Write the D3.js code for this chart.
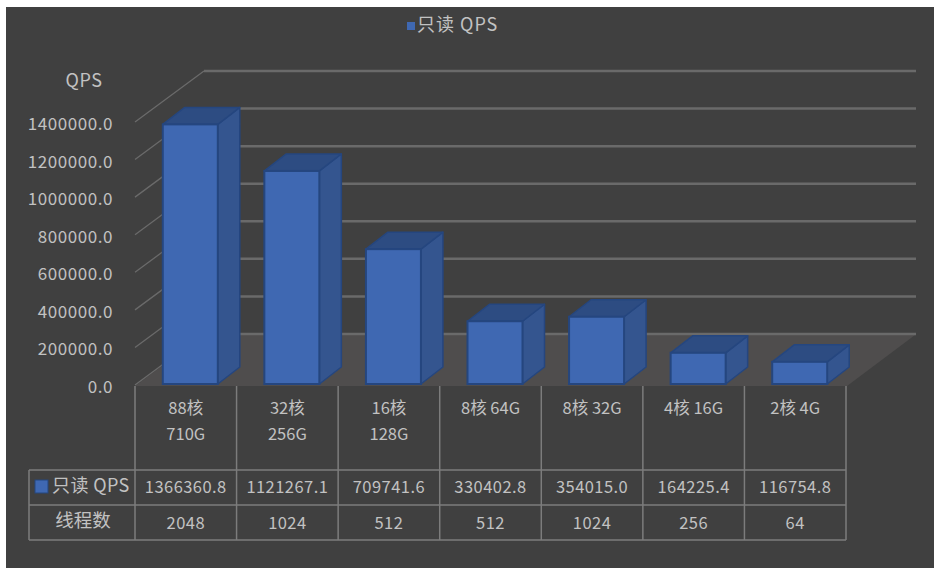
<!DOCTYPE html>
<html><head><meta charset="utf-8">
<script src="https://cdn.jsdelivr.net/npm/d3@7"></script>
<style>
html,body{margin:0;padding:0;background:#fff}
svg{display:block}
text{font-family:"Noto Sans CJK SC","Noto Sans",sans-serif;fill:#c2c2c2}
</style></head><body>
<script>
const categories = [["88核","710G"],["32核","256G"],["16核","128G"],["8核 64G"],["8核 32G"],["4核 16G"],["2核 4G"]];
const qps = [1366360.8,1121267.1,709741.6,330402.8,354015.0,164225.4,116754.8];
const threads = [2048,1024,512,512,1024,256,64];
const tickValues = [0,200000,400000,600000,800000,1000000,1200000,1400000];
const seriesName = "只读 QPS";
const threadName = "线程数";
const yTitle = "QPS";

const W=934,H=568;
const svg=d3.select("body").append("svg").attr("width",W).attr("height",H);
svg.append("rect").attr("x",6).attr("y",7).attr("width",W-6).attr("height",H-7).attr("fill","#404040");

const idx=d3.range(categories.length);
const x=d3.scaleBand().domain(idx).range([135,846]);
const yAxisScale=d3.scaleLinear().domain([0,1400000]).range([385,122]);
const yBar=d3.scaleLinear().domain([0,1400000]).range([384,118]);
const wallDx=69, wallDy=-51;
const barW=55, barDx=22, barDy=-17, barShift=4.5;

// floor
const floorPts=[[135,386],[847,386],[847+wallDx-1,386+wallDy],[135+wallDx,386+wallDy]];
svg.append("path").attr("d",d3.line()(floorPts)+"Z").attr("fill","#4f4d4d");

// gridlines: back wall and left side wall
const grid=svg.append("g").attr("fill","none").attr("stroke","#6a6a6a");
grid.selectAll("path.back").data(tickValues).join("path").attr("class","back")
 .attr("d",v=>{const y0=yAxisScale(v);return d3.line()([[135+wallDx,y0+wallDy],[916,y0+wallDy]]);})
 .attr("stroke-width",2.5);
grid.selectAll("path.side").data(tickValues).join("path").attr("class","side")
 .attr("d",v=>{const y0=yAxisScale(v);return d3.line()([[135,y0],[135+wallDx,y0+wallDy]]);})
 .attr("stroke-width",1.3);

// axis
const axis=d3.axisLeft(yAxisScale).tickValues(tickValues).tickSize(0).tickPadding(0).tickFormat(d=>d3.format(".1f")(d));
const ag=svg.append("g").attr("transform","translate(113,2)").call(axis);
ag.select(".domain").remove();
ag.selectAll("text").attr("font-size",17).attr("letter-spacing",0.55).attr("fill","#c2c2c2")
  .attr("font-family",'"Noto Sans","Noto Sans CJK SC",sans-serif');
svg.append("text").attr("x",84).attr("y",87).attr("text-anchor","middle").attr("font-size",18).attr("letter-spacing",0.5).text(yTitle);

// bars
const bars=svg.append("g").selectAll("g").data(idx).join("g");
const faceStroke="#25467f";
const left=i=>x(i)+x.bandwidth()/2+barShift-barW/2;
bars.append("path").attr("d",i=>{const r=left(i)+barW,t=yBar(qps[i]),b=yBar(0);
   return d3.line()([[r,t],[r+barDx,t+barDy],[r+barDx,b+barDy],[r,b]])+"Z";})
  .attr("fill","#34558f").attr("stroke",faceStroke).attr("stroke-width",1.5).attr("stroke-linejoin","round");
bars.append("path").attr("d",i=>{const l=left(i),r=l+barW,t=yBar(qps[i]);
   return d3.line()([[l,t],[l+barDx,t+barDy],[r+barDx,t+barDy],[r,t]])+"Z";})
  .attr("fill","#2d4c82").attr("stroke",faceStroke).attr("stroke-width",1.5).attr("stroke-linejoin","round");
bars.append("rect").attr("x",left).attr("y",i=>yBar(qps[i]))
  .attr("width",barW).attr("height",i=>yBar(0)-yBar(qps[i]))
  .attr("fill","#3f68b2").attr("stroke",faceStroke).attr("stroke-width",2);

// data table
const tTop=386,r1=470,r2=505,r3=540,tLeft=29,tRight=846;
const lines=svg.append("g").attr("stroke","#7c7c7c").attr("stroke-width",1.5);
idx.concat([idx.length]).forEach(i=>{
  const xx=i<idx.length?x(i):x(idx.length-1)+x.bandwidth();
  lines.append("line").attr("x1",xx).attr("x2",xx).attr("y1",tTop).attr("y2",r3);
});
[r1,r2,r3].forEach(y=>lines.append("line").attr("x1",tLeft).attr("x2",tRight).attr("y1",y).attr("y2",y));
lines.append("line").attr("x1",tLeft).attr("x2",tLeft).attr("y1",r1).attr("y2",r3);

const cx=i=>x(i)+x.bandwidth()/2;
const cat=svg.append("g").attr("text-anchor","middle").attr("font-size",16.5);
idx.forEach(i=>{
  categories[i].forEach((s,k)=>cat.append("text").attr("x",cx(i)).attr("y",414+k*26).text(s));
});
const row=svg.append("g").attr("text-anchor","middle").attr("font-size",16.5).attr("letter-spacing",0.45);
idx.forEach(i=>{
  row.append("text").attr("x",cx(i)).attr("y",493).text(d3.format(".1f")(qps[i]));
  row.append("text").attr("x",cx(i)).attr("y",529).text(threads[i]);
});
svg.append("rect").attr("x",35).attr("y",480).attr("width",13).attr("height",13).attr("fill","#3f68b2").attr("stroke",faceStroke);
svg.append("text").attr("x",52).attr("y",492).attr("font-size",18).attr("letter-spacing",0.4).text(seriesName);
svg.append("text").attr("x",83).attr("y",527).attr("text-anchor","middle").attr("font-size",18.5).text(threadName);

// legend
svg.append("rect").attr("x",407).attr("y",22).attr("width",8).attr("height",8).attr("fill","#3f68b2");
svg.append("text").attr("x",417).attr("y",31).attr("font-size",18).attr("letter-spacing",1).text(seriesName);
</script>
</body></html>
